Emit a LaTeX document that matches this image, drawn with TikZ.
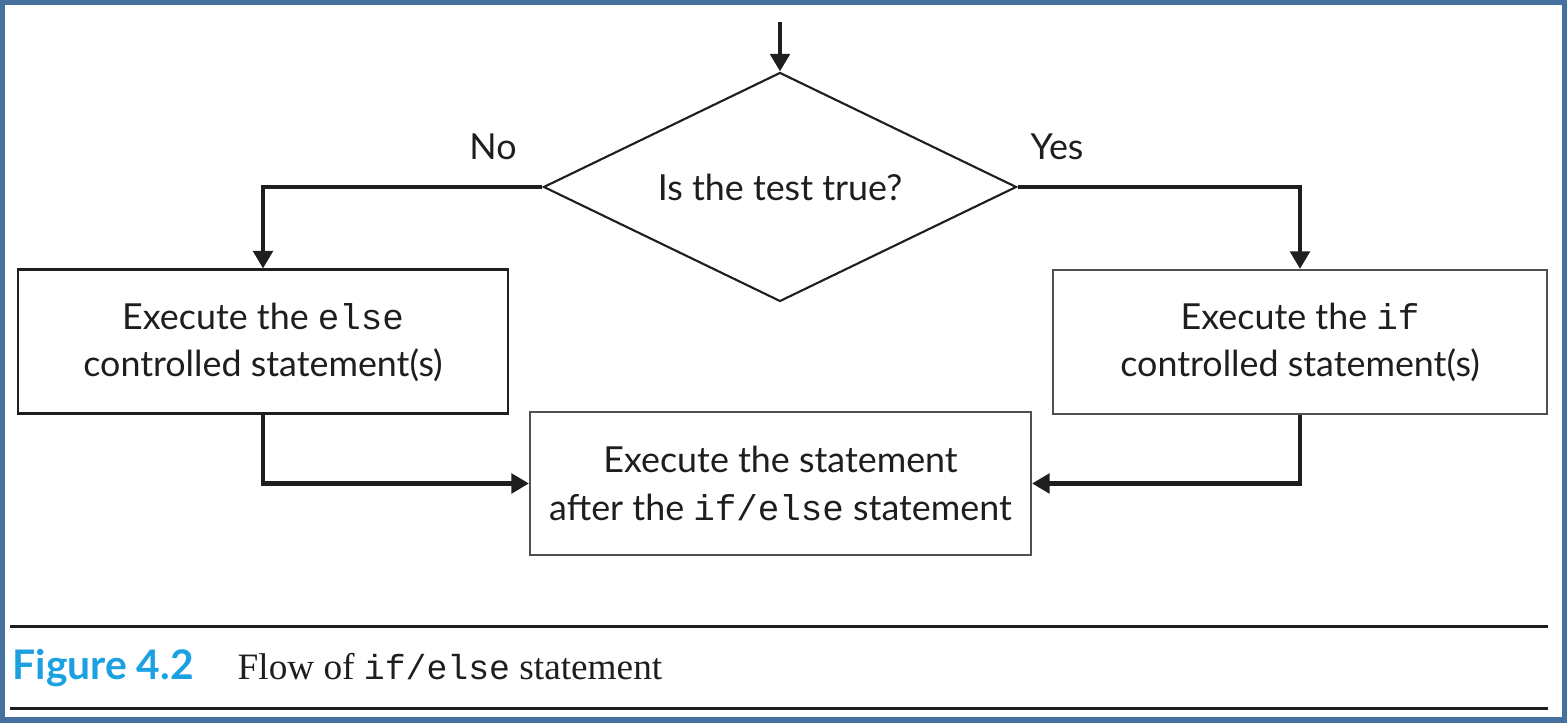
\documentclass[tikz,border=0pt]{standalone}
\usepackage{xcolor}
\usepackage{fontspec}
\setmainfont{Liberation Serif}
\setsansfont{Lato}
\setmonofont{Liberation Mono}
\usetikzlibrary{shapes.geometric, arrows.meta}
\definecolor{FrameBlue}{RGB}{70,112,158}
\definecolor{FigCyan}{RGB}{27,161,226}
\definecolor{BoxGray}{RGB}{80,80,80}
\definecolor{InkBlack}{RGB}{30,30,30}

\begin{document}
\begin{tikzpicture}[
          sbox/.style={rectangle, draw=BoxGray, line width=0.6pt, minimum width=4.94cm,
                       minimum height=1.44cm, align=center, text=InkBlack,
                       font=\sffamily\fontsize{10.2}{13.4}\selectfont},
          test/.style={diamond, aspect=2.07, draw=InkBlack, line width=0.6pt, inner sep=0pt,
                       minimum width=4.73cm, minimum height=2.29cm, text=InkBlack,
                       font=\sffamily\fontsize{10.2}{13.4}\selectfont},
          lbl/.style={text=InkBlack, font=\sffamily\fontsize{10.2}{13.4}\selectfont},
          arr/.style={-{Triangle[length=5pt, width=5.5pt]}, draw=InkBlack, line width=1.4pt},
          rule/.style={draw=InkBlack, line width=0.85pt}
        ]
        \useasboundingbox (0,0) rectangle (15.67,7.23);
        \fill[white] (0,0) rectangle (15.67,7.23);
        \draw[FrameBlue, line width=0.055cm] (0.0275,0.0275) rectangle (15.6425,7.2025);

        \coordinate (start) at (7.80, 7.01);
        \node[test] (cond) at (7.80, 5.36) {Is the test true?};

        \node[lbl] (no)  at (4.93, 5.76) {No};
        \node[lbl] (yes) at (10.57, 5.76) {Yes};

        \node[sbox, draw=InkBlack, line width=0.85pt, minimum width=4.90cm]
              (elsebox) at (2.63, 3.81)
              {Execute the \texttt{else}\\controlled statement(s)};
        \node[sbox] (ifbox) at (13.00, 3.81)
              {Execute the \texttt{if}\\controlled statement(s)};
        \node[sbox, minimum width=5.01cm, minimum height=1.43cm]
              (nextbox) at (7.805, 2.395)
              {Execute the statement\\after the \texttt{if/else} statement};

        \draw[arr] (start)   -- (cond.north);
        \draw[arr] (cond.west)  -| (elsebox.north);
        \draw[arr] (cond.east)  -| (ifbox.north);
        \draw[arr] (elsebox.south) |- (nextbox.west);
        \draw[arr] (ifbox.south)   |- (nextbox.east);

        \draw[rule] (0.10, 0.96) -- (15.48, 0.96);
        \draw[rule] (0.10, 0.14) -- (15.48, 0.14);
        \node[anchor=base west, inner sep=0pt, text=FigCyan,
              font=\sffamily\bfseries\fontsize{11.6}{14}\selectfont]
              (fignum) at (0.12, 0.43) {Figure 4.2};
        \node[anchor=base west, inner sep=0pt, text=InkBlack,
              font=\rmfamily\fontsize{10.6}{13}\selectfont]
              (figcap) at (2.37, 0.43)
              {Flow of {\fontsize{9.9}{13}\selectfont\texttt{if/else}} statement};
      \end{tikzpicture}
\end{document}
